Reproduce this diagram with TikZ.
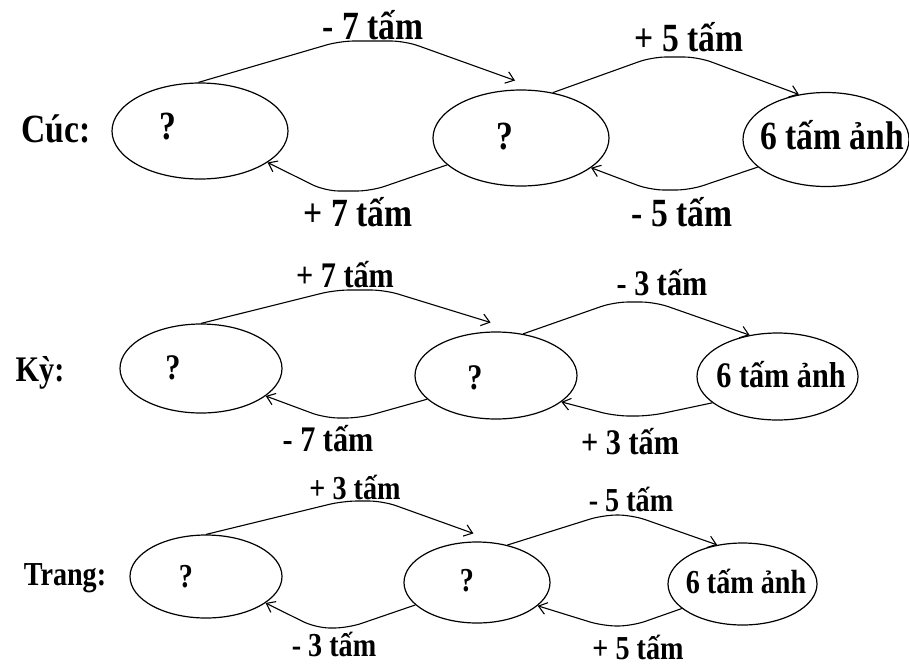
\documentclass[tikz,border=0pt]{standalone}
\usepackage{fontspec}
\setmainfont{Liberation Serif}
\newfontfamily\hep[FakeStretch=0.84]{Liberation Serif}
\usetikzlibrary{shapes}
\usetikzlibrary{arrows.meta}
\usetikzlibrary{calc}
\tikzstyle{bong}=[ellipse,draw,line width=1.2pt,inner sep=0pt]
\tikzstyle{chu1}=[font=\hep\fontsize{40}{46}\selectfont\bfseries,inner sep=0pt]
\tikzstyle{chu2}=[font=\hep\fontsize{36}{42}\selectfont\bfseries,inner sep=0pt]
\tikzstyle{chu3}=[font=\hep\fontsize{33.5}{39}\selectfont\bfseries,inner sep=0pt]
\tikzstyle{muiten}=[-{Straight Barb[length=8pt,width=12pt]},line width=1.1pt,rounded corners=14pt]

\begin{document}
\begin{tikzpicture}[x=1pt,y=-1pt]
\path[use as bounding box,fill=white] (0,0) rectangle (909,667);
% Cuc
\node[chu1] (cuc) at (56,129) {Cúc:};
\node[bong,minimum width=176pt,minimum height=96pt] (c1) at (200,131) {};
\node[bong,minimum width=176pt,minimum height=96pt] (c2) at (521,138) {};
\node[bong,minimum width=166pt,minimum height=94pt] (c3) at (826,139.5) {};
\node[chu1] (q1) at (168,127) {?};
\node[chu1] (q2) at (505,137) {?};
\node[chu1,anchor=base] (a1) at (832,149) {6 tấm ảnh};
\node[chu1] (l1) at (373,25) {- 7 tấm};
\node[chu1] (l2) at (689,37) {+ 5 tấm};
\node[chu1] (l3) at (358,212) {+ 7 tấm};
\node[chu1] (l4) at (682,212) {- 5 tấm};
\draw[muiten] (c1.92) -- (340,41) -- (405,41) -- ($(c2.97)+(0,-9)$);
\draw[muiten] (c2.55) -- (652,57) -- (698,57) -- (c3.121);
\draw[muiten] (c3.202) -- (690,190) -- (650,190) -- (c2.-23);
\draw[muiten] (c2.200) -- (371,191) -- (325,191) -- (c1.-25);
% Ky
\node[chu2] (ky) at (40,373) {Kỳ:};
\node[bong,minimum width=162pt,minimum height=89pt] (c4) at (201,368.5) {};
\node[bong,minimum width=162pt,minimum height=87pt] (c5) at (496,375.5) {};
\node[bong,minimum width=161pt,minimum height=87pt] (c6) at (777.5,376.5) {};
\node[chu2] (q4) at (173,368) {?};
\node[chu2] (q5) at (475,378) {?};
\node[chu2,anchor=base] (a2) at (781,387) {6 tấm ảnh};
\node[chu2] (l5) at (345,275) {+ 7 tấm};
\node[chu2] (l6) at (662,283) {- 3 tấm};
\node[chu2] (l7) at (328,439) {- 7 tấm};
\node[chu2] (l8) at (630,442) {+ 3 tấm};
\draw[muiten] (c4.90) -- (335,290) -- (385,290) -- ($(c5.97)+(0,-9)$);
\draw[muiten] (c5.57) -- (614,302) -- (655,302) -- (c6.124);
\draw[muiten] (c6.202) -- (650,416) -- (615,416) -- (c5.-22);
\draw[muiten] (c5.199) -- (360,418) -- (325,418) -- (c4.-23);
% Trang
\node[chu3] (trang) at (65,578) {Trang:};
\node[bong,minimum width=152pt,minimum height=83pt] (c7) at (206,576.5) {};
\node[bong,minimum width=146pt,minimum height=81pt] (c8) at (477,582.5) {};
\node[bong,minimum width=149pt,minimum height=82pt] (c9) at (742.5,584) {};
\node[chu3] (q7) at (186,577) {?};
\node[chu3] (q8) at (467,581) {?};
\node[chu3,anchor=base] (a3) at (746,593) {6 tấm ảnh};
\node[chu3] (l9) at (355,487) {+ 3 tấm};
\node[chu3] (l10) at (631,499) {- 5 tấm};
\node[chu3] (l11) at (334,644) {- 3 tấm};
\node[chu3] (l12) at (638,647) {+ 5 tấm};
\draw[muiten] (c7.90) -- (343,501) -- (383,501) -- ($(c8.95)+(0,-8)$);
\draw[muiten] (c8.51) -- (603,515) -- (632,515) -- (c9.123);
\draw[muiten] (c9.202) -- (632,626) -- (603,626) -- (c8.-21);
\draw[muiten] (c8.200) -- (348,628) -- (316,628) -- (c7.-24);
\end{tikzpicture}
\end{document}
